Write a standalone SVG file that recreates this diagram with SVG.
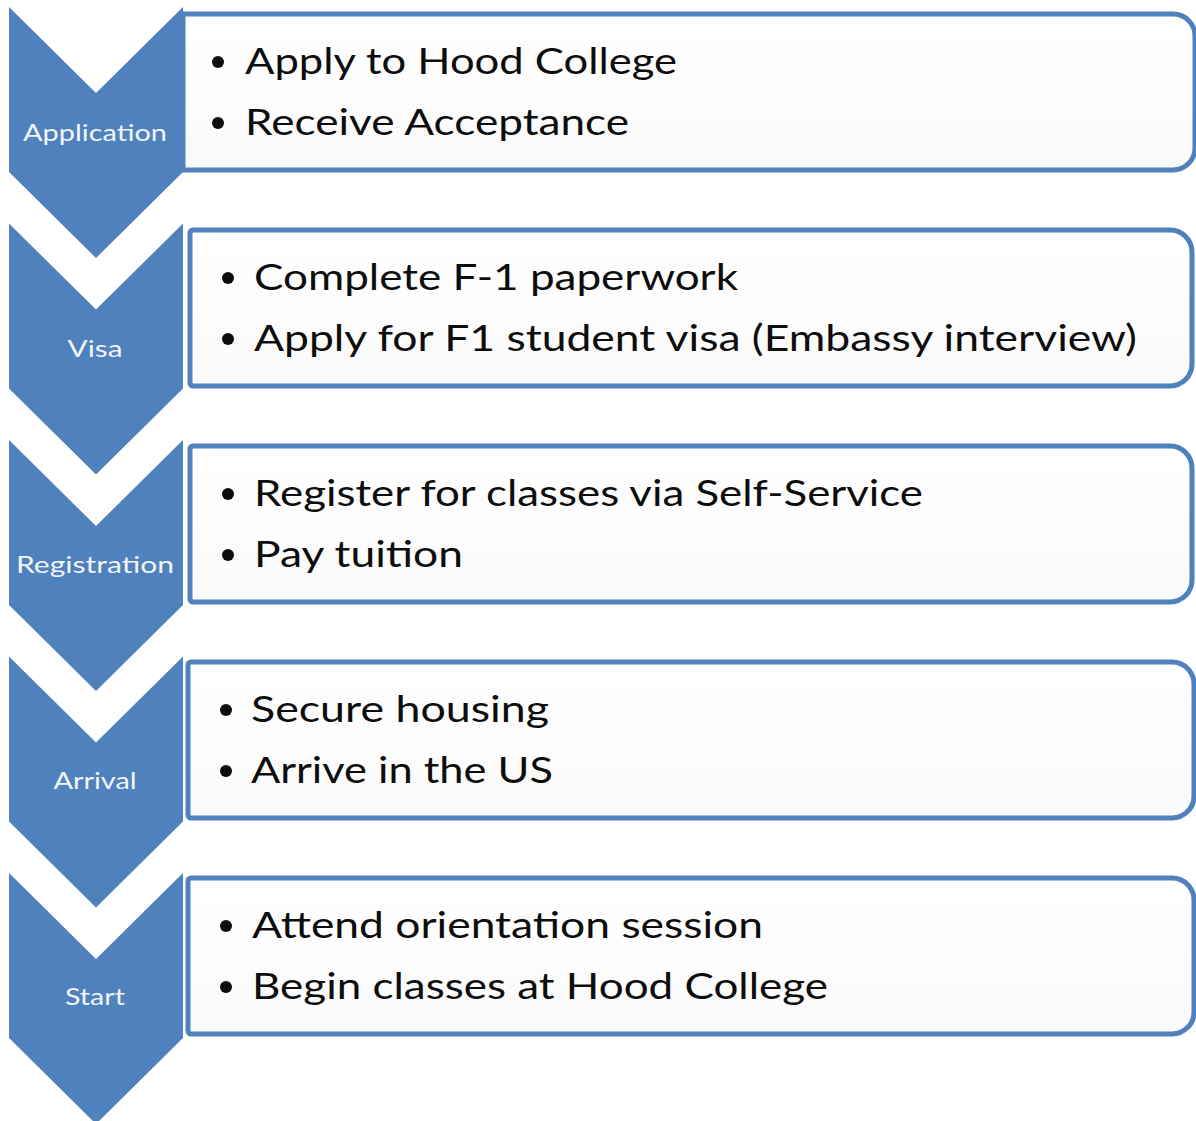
<svg xmlns="http://www.w3.org/2000/svg" width="1196" height="1121" viewBox="0 0 1196 1121">
<defs>
<linearGradient id="boxfill" x1="0" y1="0" x2="0" y2="1">
<stop offset="0" stop-color="#ffffff"/>
<stop offset="1" stop-color="#fafafa"/>
</linearGradient>
</defs>
<style>
.box{fill:url(#boxfill);stroke:#4F81BD;stroke-width:5}
.chev{fill:#4F81BD}
.lbl{font-family:Lato,"Open Sans",sans-serif;font-size:23px;fill:#f2f5fa;text-anchor:middle}
.item{font-family:Lato,"Open Sans",sans-serif;font-size:37.5px;fill:#0d0d0d}
.dot{fill:#0d0d0d}
</style>
<rect width="1196" height="1121" fill="#ffffff"/>
<g id="box-application">
<path class="box" d="M183,14 H1173 A22,22 0 0 1 1195,36 V148 A22,22 0 0 1 1173,170 H183 Z"/>
<circle class="dot" cx="218" cy="62" r="6"/>
<text class="item" x="245" y="74" textLength="432" lengthAdjust="spacingAndGlyphs">Apply to Hood College</text>
<circle class="dot" cx="218" cy="123" r="6"/>
<text class="item" x="245" y="135" textLength="384" lengthAdjust="spacingAndGlyphs">Receive Acceptance</text>
</g>
<g id="box-visa">
<path class="box" d="M193,230 H1170 A22,22 0 0 1 1192,252 V364 A22,22 0 0 1 1170,386 H193 A3,3 0 0 1 190,383 V233 A3,3 0 0 1 193,230 Z"/>
<circle class="dot" cx="228" cy="278" r="6"/>
<text class="item" x="254" y="290" textLength="484" lengthAdjust="spacingAndGlyphs">Complete F-1 paperwork</text>
<circle class="dot" cx="228" cy="339" r="6"/>
<text class="item" x="254" y="351" textLength="883" lengthAdjust="spacingAndGlyphs">Apply for F1 student visa (Embassy interview)</text>
</g>
<g id="box-registration">
<path class="box" d="M193,446 H1170 A22,22 0 0 1 1192,468 V580 A22,22 0 0 1 1170,602 H193 A3,3 0 0 1 190,599 V449 A3,3 0 0 1 193,446 Z"/>
<circle class="dot" cx="228" cy="494" r="6"/>
<text class="item" x="254" y="506" textLength="669" lengthAdjust="spacingAndGlyphs">Register for classes via Self-Service</text>
<circle class="dot" cx="228" cy="555" r="6"/>
<text class="item" x="254" y="567" textLength="209" lengthAdjust="spacingAndGlyphs">Pay tuition</text>
</g>
<g id="box-arrival">
<path class="box" d="M191,662 H1172 A22,22 0 0 1 1194,684 V796 A22,22 0 0 1 1172,818 H191 A3,3 0 0 1 188,815 V665 A3,3 0 0 1 191,662 Z"/>
<circle class="dot" cx="226" cy="710" r="6"/>
<text class="item" x="251" y="722" textLength="298" lengthAdjust="spacingAndGlyphs">Secure housing</text>
<circle class="dot" cx="226" cy="771" r="6"/>
<text class="item" x="251" y="783" textLength="302" lengthAdjust="spacingAndGlyphs">Arrive in the US</text>
</g>
<g id="box-start">
<path class="box" d="M191,878 H1172 A22,22 0 0 1 1194,900 V1012 A22,22 0 0 1 1172,1034 H191 A3,3 0 0 1 188,1031 V881 A3,3 0 0 1 191,878 Z"/>
<circle class="dot" cx="226" cy="926" r="6"/>
<text class="item" x="252" y="938" textLength="511" lengthAdjust="spacingAndGlyphs">Attend orientation session</text>
<circle class="dot" cx="226" cy="987" r="6"/>
<text class="item" x="252" y="999" textLength="576" lengthAdjust="spacingAndGlyphs">Begin classes at Hood College</text>
</g>
<g id="chevron-application">
<polygon class="chev" points="9,7 96,93 183,7 183,172 96,258 9,172"/>
<text class="lbl" x="95" y="141" textLength="144" lengthAdjust="spacingAndGlyphs">Application</text>
</g>
<g id="chevron-visa">
<polygon class="chev" points="9,223.5 96,309.5 183,223.5 183,388.5 96,474.5 9,388.5"/>
<text class="lbl" x="95" y="357" textLength="55" lengthAdjust="spacingAndGlyphs">Visa</text>
</g>
<g id="chevron-registration">
<polygon class="chev" points="9,440 96,526 183,440 183,605 96,691 9,605"/>
<text class="lbl" x="95" y="573" textLength="158" lengthAdjust="spacingAndGlyphs">Registration</text>
</g>
<g id="chevron-arrival">
<polygon class="chev" points="9,656.5 96,742.5 183,656.5 183,821.5 96,907.5 9,821.5"/>
<text class="lbl" x="95" y="789" textLength="83" lengthAdjust="spacingAndGlyphs">Arrival</text>
</g>
<g id="chevron-start">
<polygon class="chev" points="9,873 96,959 183,873 183,1038 96,1124 9,1038"/>
<text class="lbl" x="95" y="1005" textLength="60" lengthAdjust="spacingAndGlyphs">Start</text>
</g>
<g id="connectors"></g>
</svg>
